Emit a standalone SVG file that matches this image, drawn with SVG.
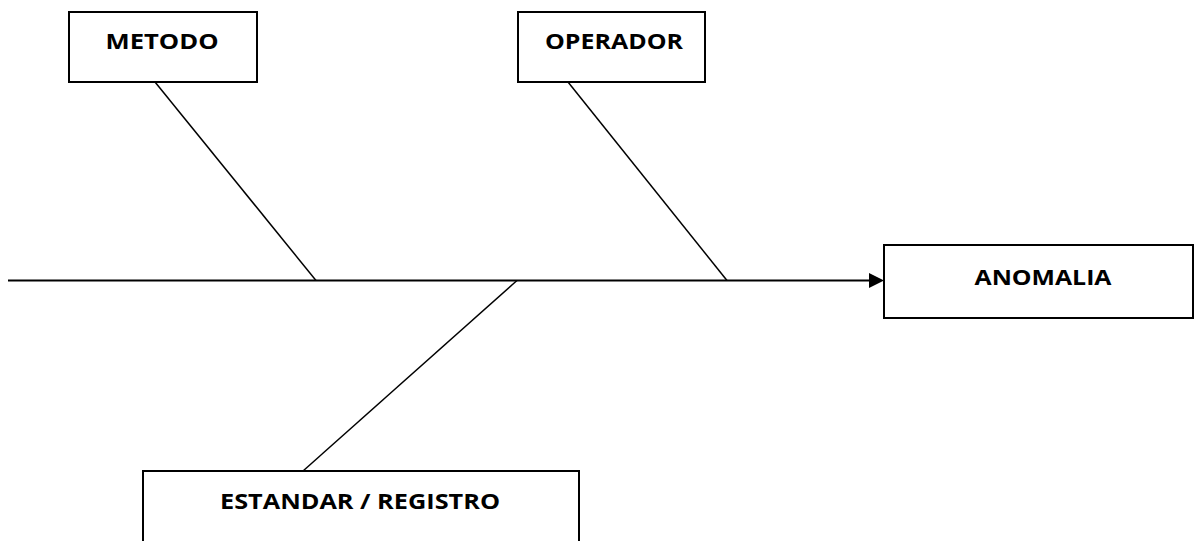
<svg xmlns="http://www.w3.org/2000/svg" width="1195" height="541" viewBox="0 0 1195 541">
  <style>
    .box { fill: #ffffff; stroke: #000000; stroke-width: 2; }
    .label { font-family: "Open Sans", "Liberation Sans", sans-serif; font-weight: bold; font-size: 22px; fill: #000000; text-anchor: middle; }
    .bone { stroke: #000000; stroke-width: 1.5; fill: none; }
    .spine { stroke: #000000; stroke-width: 2; fill: none; }
  </style>
  <rect width="1195" height="541" fill="#ffffff"/>

  <!-- spine and cause branches -->
  <g id="connectors">
    <line class="spine" x1="8" y1="280.5" x2="869" y2="280.5"/>
    <path d="M869,273 L884,280.5 L869,288 Z" fill="#000000"/>
    <line class="bone" x1="155" y1="82" x2="316" y2="280.5"/>
    <line class="bone" x1="568" y1="82" x2="727" y2="280.5"/>
    <line class="bone" x1="517" y1="280.5" x2="303" y2="471"/>
  </g>

  <g id="metodo">
    <rect class="box" x="69" y="12" width="188" height="70"/>
    <text class="label" x="162" y="49" textLength="113" lengthAdjust="spacingAndGlyphs">METODO</text>
  </g>

  <g id="operador">
    <rect class="box" x="518" y="12" width="187" height="70"/>
    <text class="label" x="614" y="49" textLength="138" lengthAdjust="spacingAndGlyphs">OPERADOR</text>
  </g>

  <g id="anomalia">
    <rect class="box" x="884" y="245" width="309" height="73"/>
    <text class="label" x="1043" y="285" textLength="137" lengthAdjust="spacingAndGlyphs">ANOMALIA</text>
  </g>

  <g id="estandar">
    <rect class="box" x="143" y="471" width="436" height="80"/>
    <text class="label" x="360" y="509" textLength="280" lengthAdjust="spacingAndGlyphs">ESTANDAR / REGISTRO</text>
  </g>
</svg>
